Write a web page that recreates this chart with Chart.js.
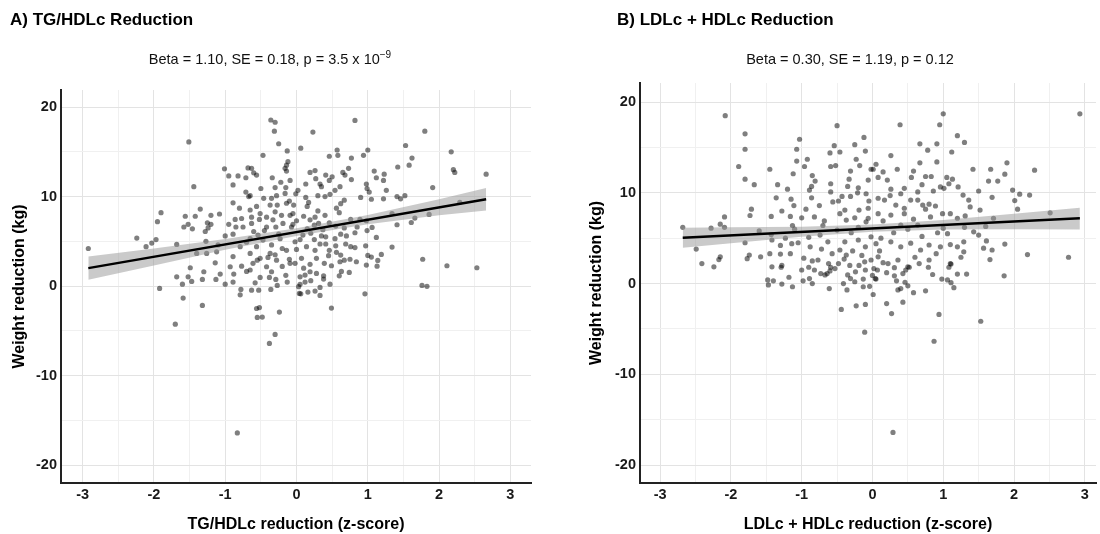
<!DOCTYPE html>
<html>
<head>
<meta charset="utf-8">
<script src="https://cdn.jsdelivr.net/npm/chart.js@4.4.1/dist/chart.umd.min.js"></script>
<style>
  body { margin: 0; background: #fff; font-family: "Liberation Sans", Arial, sans-serif; }
  #wrap { position: relative; width: 1100px; height: 534px; overflow: hidden; }
  .ttl { position: absolute; font-size: 17px; font-weight: bold; line-height: 20px; color: #000; white-space: nowrap; }
  .sub { position: absolute; width: 400px; text-align: center; font-size: 14.5px; line-height: 17px; color: #111; white-space: nowrap; }
  .sub sup { font-size: 10px; vertical-align: 6px; line-height: 0; }
  canvas { position: absolute; top: 0; }
</style>
</head>
<body>
<div id="wrap">
  <canvas id="chartA" width="550" height="534" style="left:0"></canvas>
  <canvas id="chartB" width="550" height="534" style="left:550px"></canvas>
  <div class="ttl" style="left:10px;top:10px">A) TG/HDLc Reduction</div>
  <div class="sub" style="left:70px;top:51px">Beta = 1.10, SE = 0.18, p = 3.5 x 10<sup>−9</sup></div>
  <div class="ttl" style="left:617px;top:10px">B) LDLc + HDLc Reduction</div>
  <div class="sub" style="left:650px;top:51px">Beta = 0.30, SE = 1.19, p = 0.12</div>
</div>
<script>
// Panel A: TG/HDLc reduction (z-score) vs weight reduction (kg)
const tgX = [
  -1.92,-1.68,-1.52,-1.60,-1.47,-1.49,-1.59,-1.70,-1.32,-1.30,-1.32,-1.14,-1.13,-1.07,-1.00,-0.89,-0.88,-0.83,-0.79,-0.78,
  -0.63,-0.53,-0.56,-0.52,-0.55,-0.48,-0.24,-0.30,-0.38,-0.36,-0.27,-0.13,-0.29,-0.58,-0.51,-0.38,0.04,0.03,-0.77,-0.70,-0.93,
  0.49,0.96,1.76,1.83,2.53,0.06,0.16,0.26,0.33,0.33,0.47,0.12,0.60,0.63,0.74,0.98,1.13,0.38,0.38,0.28,0.19,0.12,0.05,0.61,0.84,
  0.82,0.23,1.80,0.06,2.17,0.57,0.58,0.46,1.00,0.94,0.77,1.53,1.62,1.58,1.42,2.20,2.22,2.66,1.91,0.73,0.65,0.68,0.77,1.09,
  1.12,1.23,1.22,1.26,0.98,0.99,1.02,1.05,1.22,1.41,1.46,1.52,1.34,1.66,1.61,1.86,1.41,1.12,1.34,1.77,2.11,2.29,0.98,0.76,
  0.89,0.82,0.99,1.06,0.82,0.97,1.05,1.19,1.14,1.00,0.69,0.76,0.56,0.62,0.67,0.54,0.62,0.55,0.67,0.46,0.62,0.56,0.67,0.54,
  0.61,0.46,0.41,0.27,0.19,0.26,0.13,0.02,0.33,0.35,0.30,0.40,0.47,0.13,0.17,-0.01,-0.04,-0.05,0.31,0.19,0.10,0.26,0.40,0.37,
  0.41,0.20,0.09,0.33,0.41,0.46,0.26,0.14,0.00,-0.02,0.07,0.28,0.39,0.49,-0.02,0.19,
  -0.36,-0.30,-0.31,-0.25,-0.13,-1.51,-0.47,-0.12,-0.14,-0.16,-0.14,-1.01,-0.68,-0.63,-0.60,-0.56,-0.95,-0.82,-0.71,-0.34,
  -0.89,-0.22,-0.09,-1.44,-0.15,-0.71,-0.65,-0.67,-0.46,-0.35,-0.28,-0.16,-0.89,-0.56,-0.65,-0.51,-0.37,-0.27,-0.14,-0.30,
  -0.21,-0.09,-1.35,-1.56,-1.42,-1.20,-1.08,-1.90,-1.95,-1.52,-1.58,-1.46,-1.25,-1.20,-1.24,-1.28,-0.86,-0.77,-0.85,-0.75,
  -0.63,-0.63,-0.52,-0.42,-0.33,-0.42,-0.29,-0.19,-0.07,-2.24,-1.97,-2.03,-2.11,-2.92,-1.68,-1.27,-1.12,-1.40,-1.26,-0.89,
  -0.79,-0.89,-0.65,-0.54,-0.47,-0.56,-0.65,-0.51,-0.37,-0.35,-0.23,-0.14,-0.28,-0.09,-0.42,-0.61,
  -0.30,-0.20,-0.10,0.05,-0.45,-0.25,0.15,0.25,-0.60,-0.70,-0.40,0.10,-0.15,0.20,-0.35,0.45,0.55,0.70,0.85,-0.05,
  0.30,-0.50,-0.80,0.60,0.90,-1.00,-1.10,-0.95,0.35,-0.20,0.00,-0.55,0.05,0.75,-0.65,0.15,-0.30,0.50,-0.10,0.25
];
const tgY = [
  -0.26,1.04,1.04,0.22,0.52,2.05,-1.34,-4.25,-2.16,1.6,0.75,2.6,0.75,1.34,0.22,0.45,1.34,-16.4,-0.97,-0.37,
  -0.45,-0.45,-2.5,-2.4,-3.5,-3.46,-2.9,-5.4,-6.4,-0.37,0.08,0.45,0.75,0.37,0.97,0.97,-0.82,-0.07,2.23,1.64,2.16,
  -2.46,-0.86,0.08,-0.03,2.05,-0.86,-0.67,-0.56,-1.04,-0.15,0.22,0.45,1.15,1.64,1.53,2.35,2.23,1.15,0.78,1.42,1.6,1.23,1.04,2.72,2.72,
  18.5,17.2,17.3,15.4,15.0,15.2,14.6,14.5,15.2,14.6,14.3,15.7,14.3,13.5,13.3,13.0,12.7,12.5,11.0,13.15,12.7,12.4,11.9,12.85,
  12.1,12.5,11.8,10.7,11.4,10.9,10.5,9.7,9.75,10.0,9.75,10.1,8.1,7.6,7.1,8.0,6.85,5.44,4.36,3.0,2.27,9.35,7.3,7.45,
  7.45,5.96,6.2,6.55,4.3,4.5,3.24,3.54,2.87,3.43,4.7,4.4,3.77,3.46,2.9,5.3,5.8,6.7,6.5,7.07,9.2,8.7,9.6,10.7,
  11.1,11.8,12.4,12.0,12.7,12.9,11.4,10.7,11.4,11.1,10.1,10.0,10.25,9.9,9.35,10.3,9.05,8.1,7.0,7.4,7.8,7.7,7.9,6.3,
  5.5,5.9,5.7,4.7,4.7,4.0,4.0,4.4,4.1,4.95,3.1,3.1,2.54,2.27,2.54,2.43,
  18.55,18.3,17.3,15.9,15.1,16.1,14.6,13.9,13.5,13.15,12.85,13.1,13.2,13.15,12.65,12.4,12.3,12.3,12.1,12.1,
  11.3,11.6,11.8,11.1,11.0,10.5,10.1,10.0,9.8,9.8,10.1,10.35,9.3,8.9,8.5,8.1,9.05,9.05,9.25,8.3,
  7.9,7.9,8.6,7.8,7.8,7.9,8.05,8.2,7.2,6.9,6.6,6.4,7.07,6.9,6.5,6.1,7.45,7.55,6.6,6.6,
  7.0,7.7,7.45,7.7,7.4,6.6,6.6,7.0,6.6,5.36,5.2,4.8,4.4,4.2,4.65,5.0,3.83,3.65,3.65,5.8,
  4.4,3.3,5.3,5.7,5.14,4.4,3.65,3.1,3.65,4.6,5.3,4.0,2.9,2.54,2.16,2.54,
  3.5,2.2,3.0,5.2,6.2,5.8,6.4,5.2,6.1,4.9,3.2,2.0,1.2,0.6,1.6,3.4,4.5,5.6,6.6,6.9,
  8.4,10.9,8.7,8.2,9.9,5.6,4.6,6.9,5.6,4.2,7.3,2.9,0.2,3.0,1.8,8.9,11.0,12.2,9.5,6.8
];
const tgFitX = [-2.92, 2.66];
const tgFitY = [2.0, 9.7];
const tgBandX = [-2.92, -2, -1, 0, 1, 2, 2.66];
const tgBandLo = [0.7, 2.3, 4.05, 5.6, 6.9, 7.9, 8.45];
const tgBandHi = [3.3, 4.2, 5.25, 6.45, 7.95, 9.7, 10.95];

// Panel B: LDLc + HDLc reduction (z-score) vs weight reduction (kg)
const ldX = [
  -2.08,-1.80,-1.80,-1.89,-1.80,-1.67,-1.45,-1.03,-1.07,-1.07,-0.92,-0.96,-1.12,-0.81,-1.34,-1.20,-1.36,-1.15,-1.11,-0.86,
  -0.89,-0.86,-0.50,-0.54,-0.60,-0.46,-0.59,-0.52,-0.59,-0.59,-0.56,-0.48,-0.43,-0.31,-0.33,-0.31,-0.25,-0.23,-0.18,-0.12,
  -0.10,-0.20,-0.21,-0.06,-0.02,-1.71,-1.73,-1.28,-1.43,-1.16,-1.13,-1.00,-0.94,-0.82,-0.68,-0.46,-0.39,-0.37,-0.25,-0.19,
  -0.06,-0.09,-2.09,-2.15,-2.09,-2.28,-2.68,-2.49,-2.15,-2.17,-2.41,-2.24,-1.80,-1.74,-1.77,-1.58,-1.43,-1.42,-1.45,-1.30,
  -1.23,-1.14,-1.16,-1.05,-1.42,-1.28,-0.97,-0.88,-0.85,-0.77,-0.72,-0.74,-0.63,-0.57,-0.46,-0.37,-0.28,-0.39,-0.20,-0.10,
  -0.02,-0.62,-0.48,-0.32,-0.11,-0.02,
  2.93,1.00,0.95,0.39,1.20,1.30,0.91,0.67,0.78,1.12,0.26,0.91,0.67,0.58,0.55,0.75,0.83,1.05,1.13,1.08,
  1.42,1.67,1.90,1.87,2.29,1.64,1.77,1.98,2.08,2.22,2.01,1.69,2.05,1.50,1.36,1.28,1.21,1.38,1.52,1.71,
  2.51,1.01,0.96,0.86,0.64,0.45,0.40,0.26,0.15,0.21,0.01,0.05,0.08,-0.09,0.08,0.17,0.33,0.54,0.64,0.71,
  0.80,0.89,0.75,0.99,1.10,1.20,1.31,0.82,0.58,0.45,0.26,0.08,-0.06,0.40,0.64,0.92,1.06,1.43,1.50,1.61,
  1.57,1.69,1.66,1.87,2.19,2.77,1.29,1.20,1.10,0.96,0.80,0.68,0.54,0.40,0.26,0.12,1.29,1.10,0.80,0.66,
  0.50,0.36,0.22,0.08,
  -1.48,-1.47,-1.40,-1.28,-1.18,-1.13,-1.29,-0.98,-0.89,-0.85,-1.00,-0.90,-0.82,-0.73,-0.67,-0.61,-0.59,-0.53,-0.64,-0.41,
  -0.36,-0.44,-0.23,-0.10,-0.11,-0.13,-0.04,0.01,-0.13,-0.31,-0.35,-0.24,-0.19,-0.10,0.04,0.07,
  0.29,0.87,0.94,1.53,0.27,0.20,0.43,0.58,0.75,0.36,0.50,0.40,0.46,0.34,0.31,0.43,0.47,0.52,0.31,0.05,
  0.02,0.15,0.79,0.98,1.06,1.11,1.15,1.08,1.11,1.20,1.33,1.86,
  -0.30,-0.15,0.10,0.30,0.50,-0.50,-0.70,0.70,0.90,-0.90,-0.40,0.20,0.60,-0.05,0.35,-0.75,1.00,0.15,-0.20,0.45,
  -1.10,-0.60,0.85,1.30,-1.30,0.05,0.25,-0.35,0.70,1.60,-1.60,-0.85,0.00,1.25,-0.25
];
const ldY = [
  18.5,16.5,14.8,12.9,11.5,10.9,12.6,15.9,14.8,13.5,13.7,12.9,12.1,11.3,10.9,10.4,9.45,9.3,8.6,10.7,
  10.3,9.45,17.4,15.2,14.4,14.5,12.9,13.0,11.0,10.1,9.0,9.1,9.6,9.6,11.5,12.4,15.3,13.7,13.0,16.1,
  14.6,10.55,10.0,11.4,12.6,8.2,7.5,8.0,7.4,7.4,6.4,7.25,8.2,7.35,6.9,7.7,8.1,7.0,7.25,8.1,
  8.3,6.8,7.35,6.55,6.2,6.1,6.2,3.8,2.95,2.65,2.2,1.85,4.5,3.15,2.75,2.95,5.4,4.8,3.3,3.25,
  5.0,4.4,3.3,4.5,1.85,2.0,2.8,4.05,2.5,2.6,3.8,5.35,4.6,3.3,3.7,3.15,3.6,4.6,4.8,4.05,
  5.15,2.2,2.2,2.0,2.4,2.6,
  18.7,18.7,17.5,17.5,16.3,15.55,15.4,15.4,14.7,14.5,14.1,13.4,13.3,12.4,11.7,11.8,11.8,11.7,11.5,11.0,
  12.6,12.6,13.3,12.05,12.5,11.3,11.3,10.3,9.85,9.75,9.15,9.5,8.2,10.2,9.2,9.75,10.65,8.45,8.1,7.2,
  7.8,10.5,10.65,10.2,10.1,10.5,9.9,10.4,12.3,11.4,12.6,13.15,11.7,9.9,9.4,9.2,8.65,9.2,9.2,8.65,
  8.75,8.55,8.2,7.7,7.7,7.2,7.45,7.35,7.1,7.7,7.55,7.7,7.2,6.45,6.45,5.6,5.5,5.7,5.35,4.7,
  3.9,3.7,2.65,4.35,3.2,2.9,4.6,4.05,4.3,4.05,4.25,3.7,4.45,4.05,4.6,5.0,3.5,2.2,2.6,2.2,
  1.85,2.6,2.2,2.95,
  0.4,-0.15,0.3,-0.05,0.7,-0.35,1.8,0.3,0.55,0.0,1.5,1.8,1.5,1.1,0.95,-0.55,1.8,1.65,1.1,0.0,
  -0.7,-2.85,-2.45,-2.3,-5.35,-0.35,-0.3,-1.2,0.5,0.55,0.95,1.3,2.0,1.5,0.55,1.5,
  -16.4,-6.35,-3.4,-4.15,-3.3,-2.2,-2.05,-1.0,-0.8,-0.7,-0.25,-0.55,0.15,0.3,0.85,1.1,1.5,1.8,1.75,0.5,
  1.65,2.3,1.8,0.5,0.4,0.1,-0.45,1.8,2.15,1.05,1.05,0.85,
  5.6,3.1,3.6,5.6,6.0,5.9,6.4,5.2,3.3,5.1,2.7,1.2,2.9,9.1,12.6,8.6,6.1,6.9,6.2,8.3,
  6.0,1.4,1.0,6.2,4.2,4.4,9.7,10.7,10.9,6.3,5.8,11.9,0.9,2.9,0.2
];
const ldFitX = [-2.68, 2.93];
const ldFitY = [5.05, 7.2];
const ldBandX = [-2.68, -2, -1, 0, 1, 2, 2.93];
const ldBandLo = [3.95, 4.45, 5.15, 5.7, 5.95, 6.0, 5.95];
const ldBandHi = [6.15, 6.2, 6.25, 6.5, 7.0, 7.7, 8.35];

const FONT = '"Liberation Sans", Arial, sans-serif';

function pairs(xs, ys) {
  return xs.map((x, i) => ({ x: x, y: ys[i] }));
}

function near(v, step) {
  return Math.abs(v / step - Math.round(v / step)) < 1e-6;
}

function gridColor(step) {
  return ctx => (ctx.tick && near(ctx.tick.value, step)) ? '#e3e3e3' : '#f0f0f0';
}

function makePanel(id, p) {
  const ctx = document.getElementById(id).getContext('2d');
  return new Chart(ctx, {
    type: 'line',
    data: {
      datasets: [
        { data: pairs(p.fitX, p.fitY), borderColor: '#000', borderWidth: 2.4, pointRadius: 0, fill: false, order: 0 },
        { data: pairs(p.bandX, p.bandHi), borderColor: 'rgba(0,0,0,0)', borderWidth: 1, pointRadius: 0,
          fill: '+1', backgroundColor: 'rgba(150,150,150,0.5)', order: 1 },
        { data: pairs(p.bandX, p.bandLo), borderColor: 'rgba(0,0,0,0)', borderWidth: 1, pointRadius: 0, fill: false, order: 2 },
        { data: pairs(p.x, p.y), showLine: false, pointRadius: 2.6, pointBorderWidth: 0,
          pointBackgroundColor: 'rgba(0,0,0,0.5)', order: 3 }
      ]
    },
    options: {
      responsive: false,
      animation: false,
      devicePixelRatio: 1,
      layout: { padding: { top: p.top, right: p.right, left: 0, bottom: 0 } },
      plugins: { legend: { display: false }, tooltip: { enabled: false } },
      scales: {
        x: {
          type: 'linear', min: p.xMin, max: p.xMax,
          afterBuildTicks: s => { s.ticks = s.ticks.filter(t => near(t.value, 0.5)); },
          afterFit: s => { s.height = 534 - p.bottom; },
          ticks: { stepSize: 0.5, includeBounds: false, autoSkip: false, maxRotation: 0, padding: 3, color: '#1a1a1a',
            font: { family: FONT, size: 14.5, weight: 'bold' },
            callback: v => near(v, 1) ? String(Math.round(v)) : '' },
          grid: { drawTicks: false, color: gridColor(1), lineWidth: 1 },
          border: { display: true, color: '#222', width: 2 },
          title: { display: true, text: p.xTitle, color: '#000', padding: { top: 0, bottom: 0 },
            font: { family: FONT, size: 16, weight: 'bold' } }
        },
        y: {
          type: 'linear', min: p.yMin, max: p.yMax,
          afterBuildTicks: s => { s.ticks = s.ticks.filter(t => near(t.value, 5)); },
          afterFit: s => { s.width = p.left; },
          ticks: { stepSize: 5, includeBounds: false, autoSkip: false, padding: 4, color: '#1a1a1a',
            font: { family: FONT, size: 14.5, weight: 'bold' },
            callback: v => near(v, 10) ? String(Math.round(v)) : '' },
          grid: { drawTicks: false, color: gridColor(10), lineWidth: 1 },
          border: { display: true, color: '#222', width: 2 },
          title: { display: true, text: 'Weight reduction (kg)', color: '#000', padding: { top: p.yTitlePad, bottom: 0 },
            font: { family: FONT, size: 16, weight: 'bold' } }
        }
      }
    }
  });
}

makePanel('chartA', {
  x: tgX, y: tgY, fitX: tgFitX, fitY: tgFitY, bandX: tgBandX, bandLo: tgBandLo, bandHi: tgBandHi,
  xMin: -3.303, xMax: 3.289, yMin: -21.99, yMax: 21.9,
  top: 90, bottom: 483, left: 61, right: 19, yTitlePad: 10,
  xTitle: 'TG/HDLc reduction (z-score)'
});

makePanel('chartB', {
  x: ldX, y: ldY, fitX: ldFitX, fitY: ldFitY, bandX: ldBandX, bandLo: ldBandLo, bandHi: ldBandHi,
  xMin: -3.284, xMax: 3.158, yMin: -21.97, yMax: 22.1,
  top: 83, bottom: 483, left: 90, right: 0, yTitlePad: 37,
  xTitle: 'LDLc + HDLc reduction (z-score)'
});
</script>
</body>
</html>
